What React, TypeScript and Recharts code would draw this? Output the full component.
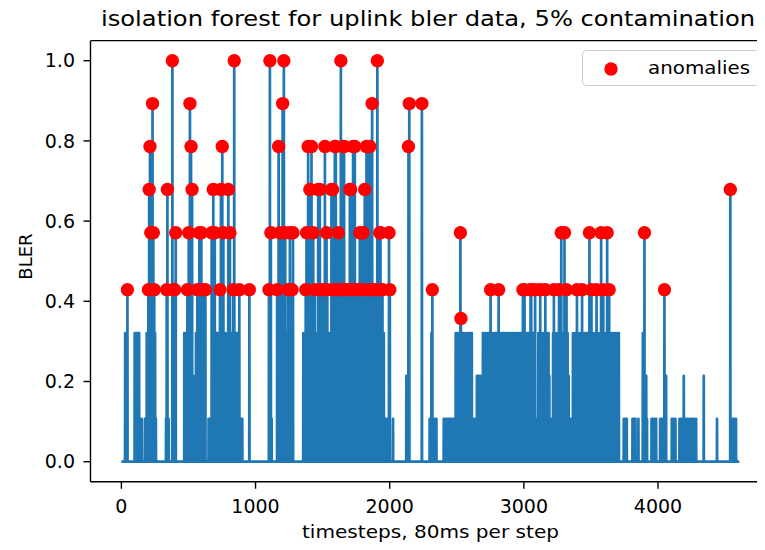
import React from "react";
import {
    ComposedChart,
    Legend,
    Line,
    ReferenceLine,
    Scatter,
    XAxis,
    YAxis,
} from "recharts";

// BLER spikes, [timestep, value]. Every other timestep is 0.
const spikesStart: [number, number][] = [
    [28, 0.321], [45, 0.429], [99, 0.321], [107, 0.321], [115, 0.321], [124, 0.321], [132, 0.321],
    [139, 0.107], [146, 0.107], [152, 0.107], [176, 0.107], [189, 0.321], [196, 0.214], [201, 0.429],
    [207, 0.679], [213, 0.786], [219, 0.571], [226, 0.321], [232, 0.893], [238, 0.571], [245, 0.429],
    [251, 0.321], [257, 0.107], [333, 0.107], [338, 0.429], [343, 0.679], [352, 0.107], [380, 1.0],
    [387, 0.429], [397, 0.429], [405, 0.571], [469, 0.321], [478, 0.321], [487, 0.321], [492, 0.429],
    [502, 0.571], [511, 0.893], [519, 0.786], [527, 0.679], [536, 0.214], [544, 0.107], [556, 0.321],
    [566, 0.429], [574, 0.321], [581, 0.571], [589, 0.321], [596, 0.571], [603, 0.321], [611, 0.429],
    [618, 0.107], [626, 0.429], [650, 0.107], [660, 0.107], [673, 0.571], [685, 0.679], [696, 0.571],
    [708, 0.321], [715, 0.321], [721, 0.321], [728, 0.321], [735, 0.429], [742, 0.679], [752, 0.786],
    [760, 0.571], [766, 0.321], [772, 0.321], [779, 0.214], [785, 0.214], [791, 0.321], [797, 0.679],
    [803, 0.321], [809, 0.571], [816, 0.321], [822, 0.321], [828, 0.321], [834, 0.429], [841, 1.0],
    [848, 0.321], [854, 0.321], [860, 0.321], [866, 0.321], [872, 0.321], [879, 0.429], [885, 0.107],
    [891, 0.107], [901, 0.107], [954, 0.429],
];

const spikesBurst: [number, number][] = [
    [1100, 0.429], [1107, 1.0], [1114, 0.571], [1120, 0.107], [1161, 0.429], [1167, 0.321], [1172, 0.786],
    [1177, 0.321], [1182, 0.571], [1187, 0.321], [1192, 0.321], [1197, 0.321], [1202, 0.893], [1207, 0.321],
    [1211, 1.0], [1216, 0.321], [1221, 0.571], [1226, 0.321], [1231, 0.321], [1237, 0.321], [1243, 0.429],
    [1249, 0.321], [1256, 0.571], [1263, 0.321], [1268, 0.107], [1272, 0.429], [1279, 0.571],
    [1356, 0.321], [1362, 0.321], [1368, 0.321], [1374, 0.429], [1380, 0.571], [1386, 0.321], [1392, 0.786],
    [1398, 0.321], [1405, 0.679], [1411, 0.321], [1417, 0.786], [1423, 0.321], [1430, 0.571], [1436, 0.321],
    [1442, 0.429], [1448, 0.321], [1454, 0.321], [1460, 0.321], [1467, 0.679], [1473, 0.321], [1479, 0.679],
    [1485, 0.429], [1491, 0.321], [1497, 0.321], [1503, 0.429], [1510, 0.321], [1517, 0.786], [1523, 0.321],
    [1529, 0.571], [1535, 0.429], [1541, 0.321], [1547, 0.321], [1554, 0.107], [1560, 0.321], [1566, 0.679],
    [1574, 0.679], [1580, 0.429], [1586, 0.321], [1591, 0.786], [1598, 0.786], [1604, 0.429], [1610, 0.321],
    [1616, 0.571], [1622, 0.321], [1629, 0.429], [1636, 1.0], [1642, 0.321], [1648, 0.429], [1653, 0.786],
    [1660, 0.786], [1666, 0.429], [1672, 0.321], [1678, 0.214], [1684, 0.429], [1690, 0.321], [1696, 0.321],
    [1703, 0.679], [1708, 0.679], [1714, 0.321], [1720, 0.429], [1727, 0.786], [1733, 0.107], [1740, 0.786],
    [1746, 0.321], [1752, 0.429], [1758, 0.321], [1764, 0.321], [1770, 0.429], [1777, 0.571], [1783, 0.321],
    [1790, 0.571], [1796, 0.321], [1802, 0.571], [1808, 0.429], [1814, 0.679], [1820, 0.321], [1827, 0.786],
    [1832, 0.786], [1838, 0.321], [1845, 0.321], [1851, 0.786], [1857, 0.429], [1863, 0.321], [1869, 0.893],
    [1876, 0.429], [1882, 0.321], [1888, 0.429], [1894, 0.321], [1901, 0.321], [1908, 1.0], [1914, 0.321],
    [1920, 0.321], [1926, 0.571], [1931, 0.571], [1938, 0.429], [1946, 0.429], [1956, 0.321], [1963, 0.107],
    [1972, 0.107], [1980, 0.107], [1995, 0.571], [2001, 0.429], [2025, 0.107],
    [2124, 0.214], [2140, 0.786], [2146, 0.893], [2240, 0.893], [2298, 0.107], [2311, 0.321], [2318, 0.429],
    [2336, 0.107], [2348, 0.107],
];

const spikesLow: [number, number][] = [
    [2403, 0.107], [2412, 0.107], [2421, 0.107], [2430, 0.107], [2439, 0.107], [2448, 0.107], [2457, 0.107],
    [2466, 0.107], [2475, 0.107], [2484, 0.107], [2492, 0.321], [2501, 0.321], [2510, 0.214], [2518, 0.321],
    [2527, 0.571], [2531, 0.357], [2540, 0.321], [2549, 0.321], [2558, 0.107], [2567, 0.321], [2576, 0.321],
    [2585, 0.214], [2594, 0.321], [2603, 0.321], [2612, 0.321], [2621, 0.107], [2630, 0.107], [2640, 0.107],
    [2650, 0.214], [2659, 0.214], [2668, 0.214], [2677, 0.214], [2686, 0.214], [2695, 0.321], [2704, 0.321],
    [2713, 0.321], [2722, 0.214], [2731, 0.321], [2740, 0.321], [2746, 0.214], [2752, 0.429], [2760, 0.321],
    [2768, 0.321], [2776, 0.214], [2784, 0.321], [2792, 0.321], [2800, 0.321], [2806, 0.214], [2812, 0.429],
    [2819, 0.321], [2827, 0.321], [2835, 0.214], [2843, 0.321], [2851, 0.321], [2859, 0.321], [2867, 0.214],
    [2875, 0.321], [2883, 0.321], [2891, 0.321], [2899, 0.214], [2907, 0.321], [2915, 0.321], [2923, 0.321],
    [2931, 0.214], [2939, 0.321], [2947, 0.321], [2955, 0.321], [2963, 0.214], [2971, 0.321], [2979, 0.321],
    [2987, 0.321], [2993, 0.429], [2999, 0.321], [3005, 0.429], [3012, 0.321], [3020, 0.214], [3028, 0.321],
    [3036, 0.321], [3044, 0.321], [3050, 0.429], [3055, 0.429], [3062, 0.321], [3070, 0.321], [3078, 0.321],
    [3084, 0.429], [3092, 0.107], [3100, 0.107], [3108, 0.321], [3116, 0.321], [3122, 0.429], [3130, 0.321],
    [3138, 0.321], [3146, 0.214], [3154, 0.321], [3160, 0.429], [3168, 0.321], [3176, 0.321], [3184, 0.321],
    [3190, 0.214], [3197, 0.107], [3205, 0.107], [3212, 0.107], [3218, 0.321], [3224, 0.429], [3232, 0.321],
    [3240, 0.321], [3248, 0.214], [3256, 0.321], [3262, 0.429], [3270, 0.321], [3279, 0.571], [3286, 0.321],
    [3294, 0.214], [3303, 0.571], [3310, 0.321], [3318, 0.429], [3326, 0.321], [3334, 0.214], [3342, 0.107],
    [3350, 0.107], [3358, 0.107], [3366, 0.321], [3374, 0.214], [3382, 0.321], [3390, 0.321], [3396, 0.429],
    [3404, 0.321], [3412, 0.214], [3420, 0.321], [3428, 0.321], [3434, 0.429], [3442, 0.321], [3450, 0.214],
    [3458, 0.321], [3466, 0.321], [3474, 0.321], [3482, 0.214], [3489, 0.571], [3496, 0.321], [3504, 0.429],
    [3512, 0.321], [3520, 0.214], [3528, 0.321], [3536, 0.321], [3542, 0.429], [3550, 0.321], [3558, 0.214],
    [3566, 0.321], [3576, 0.571], [3584, 0.321], [3592, 0.429], [3600, 0.321], [3608, 0.214], [3614, 0.321],
    [3621, 0.571], [3628, 0.321], [3636, 0.429], [3644, 0.321], [3652, 0.214], [3660, 0.321], [3668, 0.321],
    [3676, 0.214], [3684, 0.321], [3692, 0.321], [3700, 0.214], [3708, 0.321],
];

const spikesTail: [number, number][] = [
    [3745, 0.107], [3752, 0.107], [3760, 0.107], [3767, 0.107], [3810, 0.107], [3818, 0.107], [3826, 0.107],
    [3832, 0.107], [3854, 0.107], [3887, 0.321], [3893, 0.107], [3899, 0.571], [3906, 0.107], [3912, 0.214],
    [3918, 0.107], [3952, 0.107], [3962, 0.107], [3975, 0.107], [3986, 0.107], [4016, 0.107], [4026, 0.107],
    [4036, 0.107], [4048, 0.429], [4060, 0.214], [4103, 0.107], [4112, 0.107], [4122, 0.107], [4130, 0.107],
    [4160, 0.107], [4168, 0.107], [4180, 0.107], [4192, 0.214], [4209, 0.107], [4220, 0.107], [4234, 0.107],
    [4246, 0.107], [4256, 0.107], [4266, 0.107], [4284, 0.107], [4341, 0.214], [4440, 0.107], [4539, 0.679],
    [4556, 0.107], [4566, 0.107], [4581, 0.107],
];

const lastStep = 4606;
// points the isolation forest flagged: everything at or above this level
const anomalyLevel = 0.35;

const xTicks = [0, 1000, 2000, 3000, 4000];
const yTicks = [0, 0.2, 0.4, 0.6, 0.8, 1.0];

const allSpikes = [...spikesStart, ...spikesBurst, ...spikesLow, ...spikesTail];
const spikeMap = new Map<number, number>(allSpikes);
const lineData = Array.from({ length: lastStep + 1 }, (_, t) => ({ t, v: spikeMap.get(t) ?? 0 }));
const anomalyData = allSpikes
    .filter(([, v]) => v >= anomalyLevel)
    .map(([t, v]) => ({ t, v }));

const FONT = "DejaVu Sans";

const LegendBox = () => (
    <svg width={180} height={38}>
        <rect x={0.5} y={0.5} width={177} height={35} rx={4} fill="#fff" fillOpacity={0.8} stroke="#cccccc" />
        <circle cx={29} cy={19} r={6.7} fill="#ff0000" />
        <text x={66} y={24} fontFamily={FONT} fontSize={18.5} textLength={102} lengthAdjust="spacingAndGlyphs">
            anomalies
        </text>
    </svg>
);

export default function App() {
    const tickStyle = { fill: "#000", fontSize: 19, fontFamily: FONT };
    return (
        <div
            style={{
                position: "relative",
                margin: -8,
                width: 765,
                height: 550,
                overflow: "hidden",
                background: "#fff",
            }}
        >
            <ComposedChart
                width={790}
                height={550}
                data={lineData}
                margin={{ top: 40.65, right: 19.8, bottom: 38.25, left: 0 }}
            >
                <XAxis
                    type="number"
                    dataKey="t"
                    domain={[-230.3, 4836.3]}
                    allowDataOverflow
                    ticks={xTicks}
                    height={30}
                    tickSize={7}
                    tickMargin={10.5}
                    axisLine={{ stroke: "#000", strokeWidth: 1.4 }}
                    tickLine={{ stroke: "#000", strokeWidth: 1.4 }}
                    tick={tickStyle}
                />
                <YAxis
                    type="number"
                    domain={[-0.05, 1.05]}
                    allowDataOverflow
                    ticks={yTicks}
                    width={90.5}
                    tickSize={7}
                    tickMargin={8.5}
                    tickFormatter={(v: number) => v.toFixed(1)}
                    axisLine={{ stroke: "#000", strokeWidth: 1.4 }}
                    tickLine={{ stroke: "#000", strokeWidth: 1.4 }}
                    tick={tickStyle}
                />
                <ReferenceLine y={1.05} stroke="#000" strokeWidth={1.4} />
                <ReferenceLine x={4836.3} stroke="#000" strokeWidth={1.4} />
                {/* anomaly markers go under the series line, like the matplotlib original */}
                <Line
                    data={anomalyData}
                    dataKey="v"
                    stroke="none"
                    isAnimationActive={false}
                    activeDot={false}
                    legendType="none"
                    dot={(p: any) => (
                        <circle key={`a-${p.index}`} cx={p.cx} cy={p.cy} r={6.7} fill="#ff0000" stroke="none" />
                    )}
                />
                <Line
                    dataKey="v"
                    stroke="#1f77b4"
                    strokeWidth={2.7}
                    strokeLinejoin="round"
                    dot={false}
                    activeDot={false}
                    isAnimationActive={false}
                />
                <Legend
                    layout="vertical"
                    align="center"
                    verticalAlign="middle"
                    content={() => <LegendBox />}
                    wrapperStyle={{ left: 582, top: 50, width: 180, height: 38 }}
                />
            </ComposedChart>
            <svg
                width={765}
                height={550}
                style={{ position: "absolute", left: 0, top: 0, pointerEvents: "none" }}
            >
                <text x={428} y={26} textAnchor="middle" fontFamily={FONT} fontSize={22}
                    textLength={654} lengthAdjust="spacingAndGlyphs">
                    isolation forest for uplink bler data, 5% contamination
                </text>
                <text x={430.5} y={538} textAnchor="middle" fontFamily={FONT} fontSize={18}
                    textLength={257} lengthAdjust="spacingAndGlyphs">
                    timesteps, 80ms per step
                </text>
                <text x={31.5} y={256.5} textAnchor="middle" fontFamily={FONT} fontSize={18}
                    transform="rotate(-90 31.5 256.5)">
                    BLER
                </text>
            </svg>
        </div>
    );
}
